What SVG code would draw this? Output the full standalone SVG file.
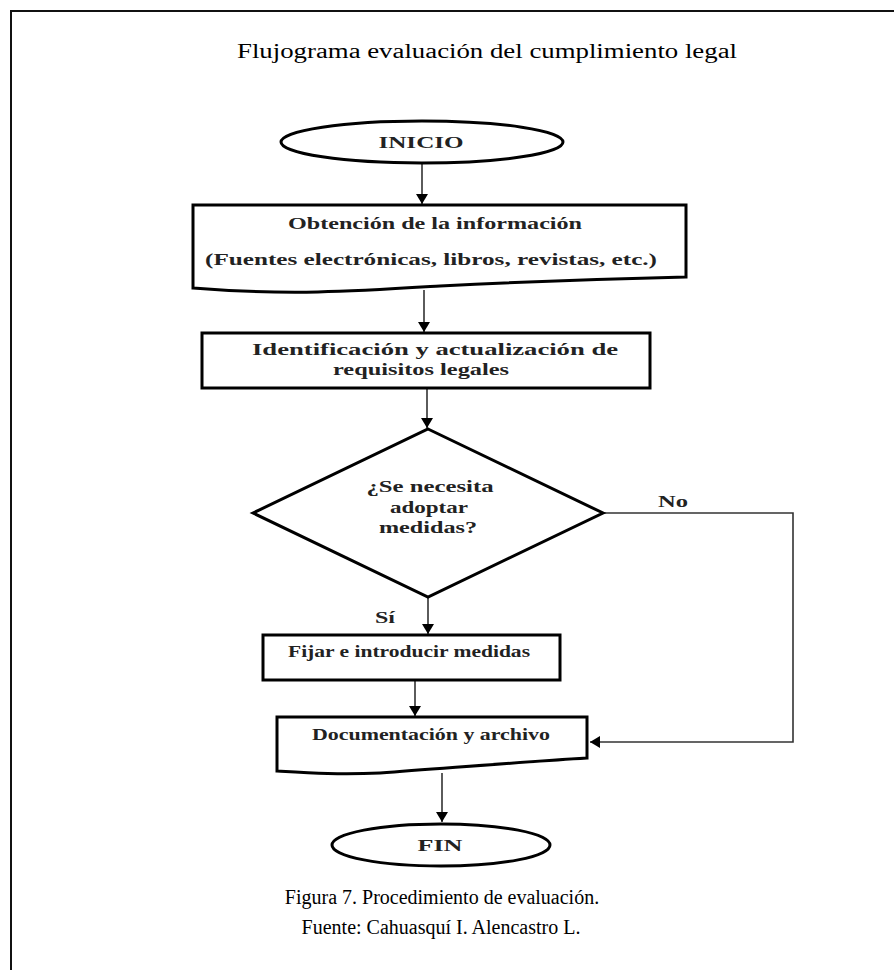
<svg xmlns="http://www.w3.org/2000/svg" width="894" height="970" viewBox="0 0 894 970">
  <style>
    .shape { fill: #fff; stroke: #000; stroke-width: 3; stroke-linejoin: miter; }
    .frame { fill: none; stroke: #111; stroke-width: 2; }
    .conn { fill: none; stroke: #333; stroke-width: 1.6; }
    .node-text { font-family: "Liberation Serif", "Times New Roman", serif; font-weight: bold; font-size: 16px; fill: #222; text-anchor: middle; }
    .plain { font-family: "Liberation Serif", "Times New Roman", serif; font-size: 20px; fill: #000; text-anchor: middle; }
  </style>
  <defs>
    <marker id="arrowLg" viewBox="0 0 10 10" refX="10" refY="5" markerWidth="10" markerHeight="12" markerUnits="userSpaceOnUse" orient="auto" preserveAspectRatio="none">
      <path d="M0,0 L10,5 L0,10 Z" fill="#000"/>
    </marker>
  </defs>

  <rect width="894" height="970" fill="#fff"/>

  <!-- page frame: top and left edges -->
  <path class="frame" d="M11,970 V11 H894"/>

  <text class="plain" x="487" y="58" font-size="25" textLength="500" lengthAdjust="spacingAndGlyphs">Flujograma evaluación del cumplimiento legal</text>

  <g id="connectors">
    <line class="conn" x1="422" y1="164" x2="422" y2="204" marker-end="url(#arrowLg)"/>
    <line class="conn" x1="424" y1="290" x2="424" y2="332" marker-end="url(#arrowLg)"/>
    <line class="conn" x1="427" y1="389" x2="427" y2="428" marker-end="url(#arrowLg)"/>
    <line class="conn" x1="428" y1="598" x2="428" y2="634" marker-end="url(#arrowLg)"/>
    <line class="conn" x1="415" y1="677" x2="415" y2="716" marker-end="url(#arrowLg)"/>
    <line class="conn" x1="442" y1="773" x2="442" y2="822" marker-end="url(#arrowLg)"/>
    <path class="conn" d="M604,513 H793 V742 H590" marker-end="url(#arrowLg)"/>
    <text class="node-text" x="673" y="507" font-weight="normal" textLength="30" lengthAdjust="spacingAndGlyphs">No</text>
    <text class="node-text" x="385" y="623" textLength="20" lengthAdjust="spacingAndGlyphs">Sí</text>
  </g>

  <g id="inicio">
    <ellipse class="shape" cx="422" cy="142" rx="141" ry="21"/>
    <text class="node-text" x="421" y="148" font-weight="normal" textLength="85" lengthAdjust="spacingAndGlyphs">INICIO</text>
  </g>

  <g id="obtencion">
    <path class="shape" d="M193,205 H686 V277 C600,279 520,282 440,286 C360,291 290,296 193,288 Z"/>
    <text class="node-text" x="435" y="229" textLength="294" lengthAdjust="spacingAndGlyphs">Obtención de la información</text>
    <text class="node-text" x="431" y="265" textLength="452" lengthAdjust="spacingAndGlyphs">(Fuentes electrónicas, libros, revistas, etc.)</text>
  </g>

  <g id="identificacion">
    <rect class="shape" x="202" y="333" width="448" height="55"/>
    <text class="node-text" x="435" y="355" textLength="366" lengthAdjust="spacingAndGlyphs">Identificación y actualización de</text>
    <text class="node-text" x="421" y="375" textLength="176" lengthAdjust="spacingAndGlyphs">requisitos legales</text>
  </g>

  <g id="decision">
    <polygon class="shape" points="428,429 603,513 428,597 253,513"/>
    <text class="node-text" x="430" y="492" textLength="127" lengthAdjust="spacingAndGlyphs">¿Se necesita</text>
    <text class="node-text" x="429" y="513" textLength="78" lengthAdjust="spacingAndGlyphs">adoptar</text>
    <text class="node-text" x="428" y="533" textLength="98" lengthAdjust="spacingAndGlyphs">medidas?</text>
  </g>

  <g id="fijar">
    <rect class="shape" x="263" y="635" width="297" height="45"/>
    <text class="node-text" x="409" y="657" textLength="242" lengthAdjust="spacingAndGlyphs">Fijar e introducir medidas</text>
  </g>

  <g id="documentacion">
    <path class="shape" d="M277,717 H587 V758 C520,762 450,768 380,773 C340,775 310,773 277,771 Z"/>
    <text class="node-text" x="431" y="740" textLength="238" lengthAdjust="spacingAndGlyphs">Documentación y archivo</text>
  </g>

  <g id="fin">
    <ellipse class="shape" cx="441" cy="845" rx="109" ry="21"/>
    <text class="node-text" x="440" y="851" textLength="45" lengthAdjust="spacingAndGlyphs">FIN</text>
  </g>

  <text class="plain" x="442" y="904">Figura 7. Procedimiento de evaluación.</text>
  <text class="plain" x="441" y="934">Fuente: Cahuasquí I. Alencastro L.</text>
</svg>
